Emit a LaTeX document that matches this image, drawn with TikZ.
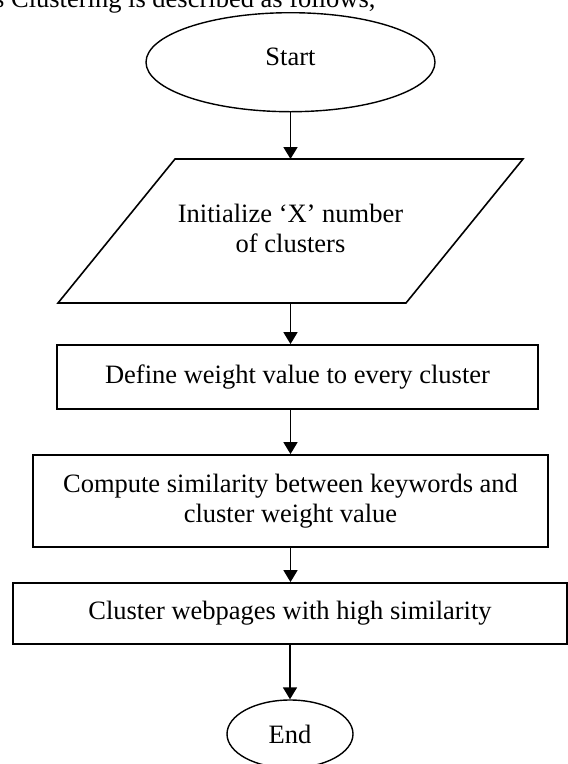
\documentclass[tikz,border=0pt]{standalone}
\usepackage{fontspec}
\setmainfont{Liberation Serif}
\usetikzlibrary{shapes.geometric,arrows.meta,calc}
\begin{document}
\begin{tikzpicture}[x=1pt,y=-1pt,
  font=\fontsize{26.5}{30}\selectfont,
  terminal/.style={ellipse, draw, line width=1.4pt, fill=white, inner sep=0pt},
  process/.style={rectangle, draw, line width=1.8pt, fill=white, inner sep=0pt, align=center},
  slanted/.style={draw, line width=1.6pt, line join=miter},
  flow/.style={line width=1.7pt, -{Triangle[width=14pt,length=12pt]}},
]
\clip (0,0) rectangle (568,764);
\fill[white] (0,0) rectangle (568,764);

% running text above the chart
\node[anchor=base west, inner sep=0pt] (intro) at (-6,7) {s Clustering is described as follows,};

% terminals and steps
\node[terminal, minimum width=289pt, minimum height=99pt,
      text height=18pt, text depth=11.4pt] (start) at (290.5,62.2) {Start};

\node[inner sep=0pt, outer sep=0pt, minimum width=465pt, minimum height=144pt,
      align=center] (init) at (290.5,231)
      {Initialize ‘X’ number\\of clusters\rule[-6pt]{0pt}{6pt}};
\draw[slanted] ($(init.north west)+(117,0)$) -- (init.north east)
  -- ($(init.south east)+(-117,0)$) -- (init.south west) -- cycle;

\node[process, minimum width=481pt, minimum height=64pt] (define) at (297.5,377)
  {Define weight value to every cluster};
\node[process, minimum width=515pt, minimum height=92pt] (compute) at (290.5,501)
  {Compute similarity between keywords and\\cluster weight value};
\node[process, minimum width=554pt, minimum height=61pt] (cluster) at (290,613.5)
  {Cluster webpages with high similarity};
\node[terminal, minimum width=126pt, minimum height=68pt] (finish) at (290,734) {End};

% connectors
\draw[flow] (start.south) -- (start.south |- init.north);
\draw[flow] (init.south) -- (init.south |- define.north);
\draw[flow] (init.south |- define.south) -- (init.south |- compute.north);
\draw[flow] (compute.south) -- (compute.south |- cluster.north);
\draw[flow] (cluster.south) -- (finish.north);
\end{tikzpicture}
\end{document}
